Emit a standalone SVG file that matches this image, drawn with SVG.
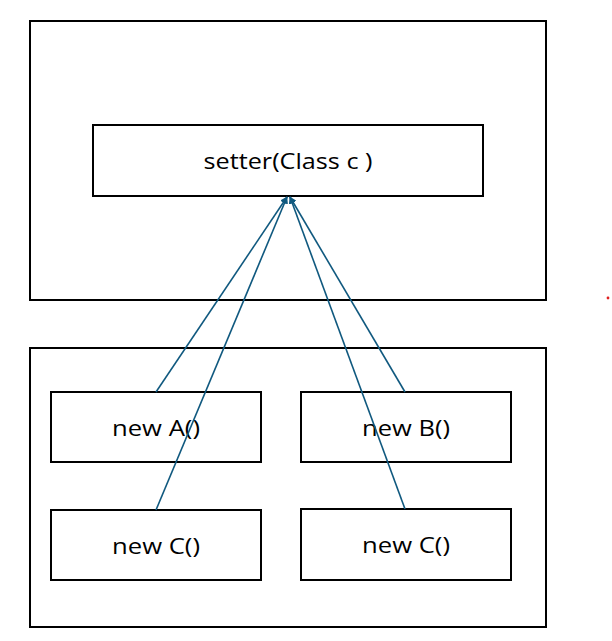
<svg xmlns="http://www.w3.org/2000/svg" width="612" height="641" viewBox="0 0 612 641">
<style>
.box{fill:#fff;stroke:#000;stroke-width:2}
.t{font-family:"Open Sans","Noto Sans",sans-serif;font-size:21px;fill:#000;text-anchor:middle;dominant-baseline:central}
.c{stroke:#10597f;stroke-width:1.6;fill:none;marker-end:url(#ah)}
</style>
<defs>
<marker id="ah" viewBox="0 0 10 10" refX="9" refY="5" markerWidth="4.5" markerHeight="4.5" orient="auto" markerUnits="strokeWidth">
<path d="M0,0 L10,5 L0,10 z" fill="#10597f"/>
</marker>
</defs>
<rect width="612" height="641" fill="#fff"/>
<g id="outer-top"><rect class="box" x="30" y="21" width="516" height="279"/></g>
<g id="outer-bottom"><rect class="box" x="30" y="348" width="516" height="279"/></g>
<g id="setter"><rect class="box" x="93" y="125" width="390" height="71"/><text class="t" x="288" y="161" textLength="169" lengthAdjust="spacingAndGlyphs">setter(Class  c )</text></g>
<g id="newA"><rect class="box" x="51" y="392" width="210" height="70"/><text class="t" x="156" y="428" textLength="88" lengthAdjust="spacingAndGlyphs">new A()</text></g>
<g id="newB"><rect class="box" x="301" y="392" width="210" height="70"/><text class="t" x="406" y="428" textLength="88" lengthAdjust="spacingAndGlyphs">new B()</text></g>
<g id="newC1"><rect class="box" x="51" y="510" width="210" height="70"/><text class="t" x="156" y="546" textLength="88" lengthAdjust="spacingAndGlyphs">new C()</text></g>
<g id="newC2"><rect class="box" x="301" y="509" width="210" height="71"/><text class="t" x="406" y="545" textLength="88" lengthAdjust="spacingAndGlyphs">new C()</text></g>
<g id="connectors">
<line class="c" x1="156" y1="392" x2="287" y2="197"/>
<line class="c" x1="156" y1="510" x2="287" y2="197"/>
<line class="c" x1="405" y1="392" x2="290" y2="197"/>
<line class="c" x1="405" y1="509" x2="290" y2="197"/>
</g>
<circle cx="608" cy="298" r="1.4" fill="#e02020"/>
</svg>
